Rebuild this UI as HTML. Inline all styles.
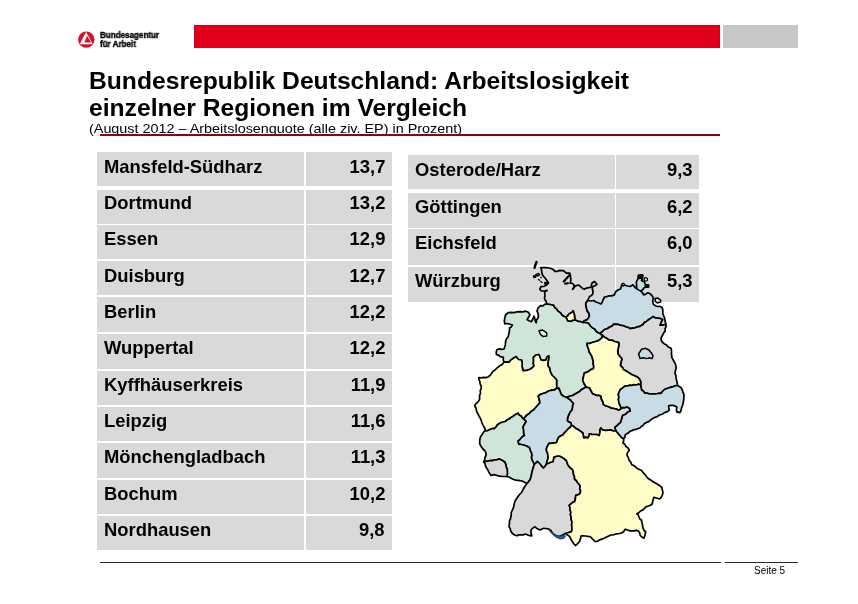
<!DOCTYPE html>
<html><head><meta charset="utf-8">
<style>
html,body{margin:0;padding:0;background:#fff;}
body{width:858px;height:604px;position:relative;overflow:hidden;font-family:"Liberation Sans",sans-serif;color:#000;}
.abs{position:absolute;}
#title,#sub,#logotxt,#seite,.cell{will-change:transform;}
#redbar{left:194px;top:25.2px;width:526px;height:22.6px;background:#e0001b;box-shadow:inset 0 0 0 0.6px #c40018;}
#graybox{left:723.1px;top:25.2px;width:74.8px;height:22.6px;background:#c8c8c8;}
#logotxt{left:100px;top:31.4px;font-size:8.7px;line-height:9.4px;font-weight:bold;letter-spacing:-0.05px;white-space:nowrap;transform:scaleX(0.935);transform-origin:0 0;-webkit-text-stroke:0.4px #000;}
#title{left:88.5px;top:67.6px;font-size:23.3px;line-height:26.8px;font-weight:bold;white-space:nowrap;transform:scaleX(1.058);transform-origin:0 0;}
#sub{left:89px;top:121.4px;font-size:13px;line-height:15px;white-space:nowrap;transform:scaleX(1.106);transform-origin:0 0;}
#redline{left:100.3px;top:133.9px;width:619.6px;height:2px;background:#8e0012;}
.row{position:absolute;background:#d9d9d9;}
.cell{position:absolute;font-size:17.7px;font-weight:bold;line-height:20px;white-space:nowrap;transform:scaleX(1.04);transform-origin:0 0;}
.cell.r{transform-origin:100% 0;}
#footline{left:100px;top:561.7px;width:620.7px;height:1.2px;background:#2a2a2a;}
#footline2{left:725.2px;top:561.7px;width:73px;height:1.2px;background:#2a2a2a;}
#seite{left:754.3px;top:564.6px;font-size:10px;line-height:12px;}
</style></head><body>
<div class="abs" id="redbar"></div>
<div class="abs" id="graybox"></div>
<svg class="abs" style="left:76px;top:29px" width="21" height="21" viewBox="76 29 21 21">
<circle cx="86.3" cy="39.6" r="8.2" fill="#d5142b"/>
<path d="M86.1 31.9 L92.8 44.3 L79.7 44.3 Z" fill="#fff"/>
<path d="M87.1 35.8 L91.1 42.4 L84.3 42.4 Z" fill="#d5142b"/>
</svg>
<div class="abs" id="logotxt">Bundesagentur<br>für Arbeit</div>
<div class="abs" id="title">Bundesrepublik Deutschland: Arbeitslosigkeit<br>einzelner Regionen im Vergleich</div>
<div class="abs" id="sub">(August 2012 – Arbeitslosenquote (alle ziv. EP) in Prozent)</div>
<div class="abs" id="redline"></div>
<div id="tables">
<div class="row" style="left:97px;top:152.00px;width:206.90px;height:33.60px"></div>
<div class="row" style="left:305.5px;top:152.00px;width:86.50px;height:33.60px"></div>
<div class="cell" style="left:104px;top:156.97px">Mansfeld-Südharz</div>
<div class="cell r" style="right:473px;top:156.97px">13,7</div>
<div class="row" style="left:97px;top:189.50px;width:206.90px;height:34.00px"></div>
<div class="row" style="left:305.5px;top:189.50px;width:86.50px;height:34.00px"></div>
<div class="cell" style="left:104px;top:192.82px">Dortmund</div>
<div class="cell r" style="right:473px;top:192.82px">13,2</div>
<div class="row" style="left:97px;top:225.20px;width:206.90px;height:34.15px"></div>
<div class="row" style="left:305.5px;top:225.20px;width:86.50px;height:34.15px"></div>
<div class="cell" style="left:104px;top:229.17px">Essen</div>
<div class="cell r" style="right:473px;top:229.17px">12,9</div>
<div class="row" style="left:97px;top:261.05px;width:206.90px;height:34.45px"></div>
<div class="row" style="left:305.5px;top:261.05px;width:86.50px;height:34.45px"></div>
<div class="cell" style="left:104px;top:265.52px">Duisburg</div>
<div class="cell r" style="right:473px;top:265.52px">12,7</div>
<div class="row" style="left:97px;top:297.20px;width:206.90px;height:34.85px"></div>
<div class="row" style="left:305.5px;top:297.20px;width:86.50px;height:34.85px"></div>
<div class="cell" style="left:104px;top:301.87px">Berlin</div>
<div class="cell r" style="right:473px;top:301.87px">12,2</div>
<div class="row" style="left:97px;top:333.75px;width:206.90px;height:35.10px"></div>
<div class="row" style="left:305.5px;top:333.75px;width:86.50px;height:35.10px"></div>
<div class="cell" style="left:104px;top:338.22px">Wuppertal</div>
<div class="cell r" style="right:473px;top:338.22px">12,2</div>
<div class="row" style="left:97px;top:370.55px;width:206.90px;height:34.90px"></div>
<div class="row" style="left:305.5px;top:370.55px;width:86.50px;height:34.90px"></div>
<div class="cell" style="left:104px;top:374.57px">Kyffhäuserkreis</div>
<div class="cell r" style="right:473px;top:374.57px">11,9</div>
<div class="row" style="left:97px;top:407.15px;width:206.90px;height:34.00px"></div>
<div class="row" style="left:305.5px;top:407.15px;width:86.50px;height:34.00px"></div>
<div class="cell" style="left:104px;top:410.92px">Leipzig</div>
<div class="cell r" style="right:473px;top:410.92px">11,6</div>
<div class="row" style="left:97px;top:442.85px;width:206.90px;height:35.05px"></div>
<div class="row" style="left:305.5px;top:442.85px;width:86.50px;height:35.05px"></div>
<div class="cell" style="left:104px;top:447.27px">Mönchengladbach</div>
<div class="cell r" style="right:473px;top:447.27px">11,3</div>
<div class="row" style="left:97px;top:479.60px;width:206.90px;height:34.35px"></div>
<div class="row" style="left:305.5px;top:479.60px;width:86.50px;height:34.35px"></div>
<div class="cell" style="left:104px;top:483.62px">Bochum</div>
<div class="cell r" style="right:473px;top:483.62px">10,2</div>
<div class="row" style="left:97px;top:515.65px;width:206.90px;height:34.75px"></div>
<div class="row" style="left:305.5px;top:515.65px;width:86.50px;height:34.75px"></div>
<div class="cell" style="left:104px;top:519.97px">Nordhausen</div>
<div class="cell r" style="right:473px;top:519.97px">9,8</div>
<div class="row" style="left:408px;top:155.30px;width:206.65px;height:33.70px"></div>
<div class="row" style="left:616.15px;top:155.30px;width:82.85px;height:33.70px"></div>
<div class="cell" style="left:415px;top:159.97px">Osterode/Harz</div>
<div class="cell r" style="right:165px;top:159.97px">9,3</div>
<div class="row" style="left:408px;top:193.00px;width:206.65px;height:34.55px"></div>
<div class="row" style="left:616.15px;top:193.00px;width:82.85px;height:34.55px"></div>
<div class="cell" style="left:415px;top:196.67px">Göttingen</div>
<div class="cell r" style="right:165px;top:196.67px">6,2</div>
<div class="row" style="left:408px;top:229.25px;width:206.65px;height:35.60px"></div>
<div class="row" style="left:616.15px;top:229.25px;width:82.85px;height:35.60px"></div>
<div class="cell" style="left:415px;top:232.87px">Eichsfeld</div>
<div class="cell r" style="right:165px;top:232.87px">6,0</div>
<div class="row" style="left:408px;top:266.55px;width:206.65px;height:35.15px"></div>
<div class="row" style="left:616.15px;top:266.55px;width:82.85px;height:35.15px"></div>
<div class="cell" style="left:415px;top:270.87px">Würzburg</div>
<div class="cell r" style="right:165px;top:270.87px">5,3</div>
</div><!--/T-->
<div class="abs" id="footline"></div>
<div class="abs" id="footline2"></div>
<div class="abs" id="seite">Seite 5</div>
<!--MAP-->
<svg class="abs" id="map" style="left:460px;top:250px" width="240" height="310" viewBox="460 250 240 310">
<g stroke="#000" stroke-width="1.7" stroke-linejoin="round" stroke-linecap="round">
<path fill="#d9d9d9" d="M546.6,304.0 546.3,301.7 545.0,299.8 544.5,297.7 545.0,295.6 544.6,292.3 547.2,290.4 544.2,291.0 541.2,290.8 539.8,289.2 541.0,286.6 544.0,286.3 546.7,285.0 548.6,283.0 546.7,280.2 545.4,278.4 543.9,276.7 542.4,274.8 541.8,272.5 541.6,270.0 540.7,267.6 543.4,267.7 546.0,267.6 548.8,268.0 551.6,268.6 553.4,269.8 555.0,271.4 557.3,271.4 559.3,270.4 561.4,270.7 563.5,270.7 566.3,273.2 569.8,273.2 570.5,276.0 570.8,279.5 570.5,283.0 572.5,283.5 574.0,285.0 573.8,287.3 572.6,289.3 574.1,287.7 575.3,285.8 578.8,285.0 580.5,286.7 582.3,288.2 584.4,289.3 586.5,288.1 589.0,287.6 591.3,287.0 591.4,285.0 592.0,283.0 594.5,281.5 597.0,284.4 595.0,285.7 592.7,286.5 592.3,289.0 593.1,291.5 592.7,294.0 591.4,295.6 589.5,296.5 588.6,298.5 587.8,300.5 586.5,302.1 585.7,304.0 586.1,306.0 586.4,308.0 587.3,311.1 589.2,313.7 589.4,315.9 588.5,318.0 586.8,319.9 584.4,320.7 582.5,322.3 580.5,321.7 578.5,321.5 575.2,320.0 574.6,317.5 574.5,315.0 573.8,312.9 573.2,310.8 571.4,312.8 569.0,314.0 567.6,315.9 565.5,317.0 563.6,316.3 562.0,315.0 560.2,312.6 557.8,311.0 556.5,309.0 554.6,307.5 553.6,305.3 550.0,304.5Z"/>
<path fill="#fffcc8" d="M575.2,320.0 574.6,317.5 574.5,315.0 573.8,312.9 573.2,310.8 571.4,312.8 569.0,314.0 567.6,315.9 565.5,317.0 566.8,318.7 567.5,320.8 571.0,321.5 572.9,320.3Z"/>
<path fill="#cfe5d7" d="M546.6,304.0 544.6,304.4 543.0,305.8 540.4,305.6 538.0,308.0 537.0,311.2 538.3,314.0 538.3,317.5 536.5,320.0 536.2,323.0 535.3,321.1 535.0,319.0 534.0,316.0 532.9,319.0 531.3,321.7 529.1,320.7 527.0,319.6 529.0,316.5 530.0,314.7 528.0,312.0 525.7,311.2 522.8,311.9 519.9,311.7 517.0,311.8 514.1,312.6 511.2,312.3 508.3,312.6 505.5,315.0 504.8,318.2 504.3,321.0 504.8,323.8 506.9,323.5 509.0,324.0 512.4,325.0 511.3,326.9 509.5,328.0 509.5,330.5 509.0,333.0 508.3,336.4 506.4,339.0 505.5,342.0 505.4,344.4 504.8,346.7 504.0,349.0 501.7,349.4 499.3,348.9 497.0,349.7 496.2,352.0 496.4,354.5 498.4,355.1 500.0,356.5 503.4,357.3 503.2,359.8 504.0,362.2 506.5,362.2 509.0,362.2 510.8,360.1 513.0,358.5 516.0,356.6 518.5,359.5 521.5,360.0 522.2,363.0 522.0,366.0 522.5,368.3 523.0,370.6 526.5,370.5 530.0,369.2 532.3,367.8 534.0,365.7 533.3,363.4 533.6,361.0 533.4,357.3 536.0,355.0 539.0,354.5 540.0,357.5 541.0,360.0 543.5,360.3 546.0,360.0 547.0,357.0 548.8,356.0 548.7,358.5 548.2,361.0 547.9,363.3 548.0,365.7 549.5,367.9 550.0,370.5 550.9,373.1 552.3,375.5 555.0,378.0 556.5,379.7 556.7,381.9 556.5,384.0 556.7,386.2 556.5,388.5 558.5,388.0 560.0,391.0 561.2,394.5 564.0,396.5 567.0,397.5 570.0,396.0 572.3,395.7 574.2,394.5 576.9,393.0 579.6,391.4 581.6,389.6 584.0,388.2 586.0,387.0 585.1,385.2 584.0,383.5 582.8,380.2 583.5,376.5 584.5,372.8 586.9,372.4 589.0,371.0 591.0,369.5 593.4,368.7 593.8,366.3 593.2,364.0 593.3,361.4 592.6,359.0 591.9,356.4 590.5,354.0 589.1,351.8 588.6,349.2 587.5,346.5 587.0,343.4 589.6,343.5 592.0,342.5 594.7,341.7 597.5,341.0 600.0,339.5 601.8,337.8 602.8,335.5 599.6,333.3 597.6,332.4 596.0,331.0 594.7,329.1 592.6,328.0 590.5,326.0 588.5,323.0 586.0,322.5 582.5,322.3 580.5,321.7 578.5,321.5 575.2,320.0 572.9,320.3 571.0,321.5 567.5,320.8 566.8,318.7 565.5,317.0 563.6,316.3 562.0,315.0 560.2,312.6 557.8,311.0 556.5,309.0 554.6,307.5 553.6,305.3 550.0,304.5Z"/>
<path fill="#c8dce6" d="M587.8,300.5 591.0,301.0 594.0,300.5 595.5,301.9 597.5,302.5 601.0,304.0 602.3,302.1 603.0,300.0 604.5,297.0 606.8,296.6 609.0,295.8 611.7,295.9 614.3,294.9 615.6,291.8 618.0,290.0 620.5,289.0 621.3,286.5 621.9,284.3 623.5,283.6 624.7,285.3 627.5,286.0 630.3,286.5 633.0,284.8 635.2,287.6 636.8,288.6 636.7,286.6 636.6,284.5 636.3,282.5 636.9,280.6 638.2,278.5 638.4,275.5 640.5,274.8 642.8,275.2 642.5,278.5 641.5,280.5 644.3,282.0 645.5,284.5 648.5,284.8 648.6,287.0 645.5,287.2 643.5,288.3 642.9,289.5 640.8,291.2 642.5,292.8 643.6,294.9 645.8,294.1 647.8,292.8 650.2,293.8 652.0,295.6 653.4,298.0 652.7,300.9 653.4,304.4 655.4,305.7 657.6,306.5 659.7,306.3 661.7,307.2 662.7,309.0 662.8,311.0 662.9,313.9 664.0,316.5 664.7,318.4 665.0,320.5 665.8,324.3 662.9,325.2 659.9,325.2 661.2,322.0 662.6,319.6 660.2,318.4 657.6,318.2 655.1,317.8 653.0,316.5 651.4,318.0 649.5,319.0 646.5,321.4 644.4,322.6 643.0,324.5 640.0,326.3 637.5,326.9 635.0,327.8 632.5,328.2 630.0,328.6 628.1,327.4 626.0,327.0 624.1,325.9 622.0,325.5 619.9,325.2 618.0,324.3 615.9,324.3 613.8,324.2 611.9,326.1 609.4,327.2 607.2,328.8 604.5,329.5 602.0,332.0 599.6,333.3 597.6,332.4 596.0,331.0 594.7,329.1 592.6,328.0 590.5,326.0 588.5,323.0 586.0,322.5 582.5,322.3 584.4,320.7 586.8,319.9 588.5,318.0 589.4,315.9 589.2,313.7 587.3,311.1 586.4,308.0 586.1,306.0 585.7,304.0 586.5,302.1Z"/>
<path fill="#d9d9d9" d="M665.8,324.3 666.1,326.6 665.0,328.9 665.2,331.2 663.8,332.6 663.0,334.5 661.2,337.7 661.1,339.8 662.0,341.8 664.1,343.7 666.5,345.0 668.4,347.1 671.0,348.3 671.5,350.6 671.5,353.0 671.6,355.2 671.8,357.3 672.9,359.4 674.0,361.5 675.1,363.4 675.8,365.5 676.1,368.3 675.3,370.9 675.0,373.6 676.0,375.6 676.0,377.9 676.5,380.0 677.2,382.7 677.5,385.5 674.9,385.8 672.6,386.9 670.5,387.3 668.5,388.0 666.4,388.7 664.4,389.5 662.6,391.3 661.2,393.4 658.6,393.3 656.0,394.0 653.7,393.9 651.4,394.0 649.2,394.0 647.1,393.0 644.8,393.2 643.5,391.3 641.6,390.0 641.0,387.0 640.5,384.5 640.8,381.8 639.8,379.6 638.3,377.7 636.2,376.6 634.0,375.5 632.0,374.7 630.2,373.6 627.0,371.5 623.6,369.6 622.4,367.3 620.4,365.5 621.0,362.0 622.0,359.0 620.0,356.5 618.0,354.0 617.7,351.0 618.3,348.0 618.9,345.3 618.7,342.6 616.6,342.0 614.5,341.5 612.7,340.4 610.6,340.2 608.6,339.8 607.0,338.5 604.5,337.2 602.8,335.5 599.6,333.3 602.0,332.0 604.5,329.5 607.2,328.8 609.4,327.2 611.9,326.1 613.8,324.2 615.9,324.3 618.0,324.3 619.9,325.2 622.0,325.5 624.1,325.9 626.0,327.0 628.1,327.4 630.0,328.6 632.5,328.2 635.0,327.8 637.5,326.9 640.0,326.3 643.0,324.5 644.4,322.6 646.5,321.4 649.5,319.0 651.4,318.0 653.0,316.5 655.1,317.8 657.6,318.2 660.2,318.4 662.6,319.6 661.2,322.0 659.9,325.2 662.9,325.2Z"/>
<path fill="#fffcc8" d="M602.8,335.5 601.8,337.8 600.0,339.5 597.5,341.0 594.7,341.7 592.0,342.5 589.6,343.5 587.0,343.4 587.5,346.5 588.6,349.2 589.1,351.8 590.5,354.0 591.9,356.4 592.6,359.0 593.3,361.4 593.2,364.0 593.8,366.3 593.4,368.7 591.0,369.5 589.0,371.0 586.9,372.4 584.5,372.8 583.5,376.5 582.8,380.2 584.0,383.5 585.1,385.2 586.0,387.0 589.4,388.0 591.0,391.0 592.6,393.9 594.6,394.5 596.5,395.5 598.7,395.4 600.8,396.3 601.0,398.5 602.0,400.5 603.0,402.4 603.2,404.5 605.7,406.0 608.5,406.8 611.0,408.1 613.8,408.5 616.3,409.1 618.7,410.2 621.3,408.6 620.0,405.0 619.0,403.2 618.7,401.2 618.4,399.1 619.0,397.0 618.3,395.0 618.7,393.0 620.4,389.5 622.1,388.4 623.6,387.0 625.4,386.0 627.5,386.0 629.6,385.2 631.8,385.5 633.8,384.7 636.0,385.0 638.2,384.3 640.5,384.5 640.8,381.8 639.8,379.6 638.3,377.7 636.2,376.6 634.0,375.5 632.0,374.7 630.2,373.6 627.0,371.5 623.6,369.6 622.4,367.3 620.4,365.5 621.0,362.0 622.0,359.0 620.0,356.5 618.0,354.0 617.7,351.0 618.3,348.0 618.9,345.3 618.7,342.6 616.6,342.0 614.5,341.5 612.7,340.4 610.6,340.2 608.6,339.8 607.0,338.5 604.5,337.2Z"/>
<path fill="#c8dce6" d="M677.5,385.5 680.7,387.3 682.4,390.0 683.0,392.4 684.0,394.7 683.9,396.9 683.8,399.0 683.2,402.8 682.6,405.5 681.5,408.0 681.1,410.4 680.0,412.6 676.7,411.8 676.4,409.4 676.9,407.0 674.8,405.9 672.6,405.3 670.5,405.4 668.5,406.0 668.9,408.1 669.3,410.2 667.1,411.9 664.4,412.6 662.2,414.3 659.5,415.0 657.2,416.6 654.6,417.5 652.5,418.6 650.5,420.0 648.8,421.6 646.5,422.4 644.4,423.6 643.0,425.5 641.3,426.5 640.0,428.0 637.9,428.5 636.0,429.5 633.8,429.7 631.8,430.6 629.9,431.3 628.5,432.8 625.3,434.7 625.0,436.9 623.6,438.7 621.7,437.9 620.4,436.3 618.0,433.5 615.8,430.8 614.7,427.3 617.5,425.0 620.4,422.4 621.5,419.0 622.0,416.9 622.8,415.0 624.8,414.5 626.5,413.2 628.1,411.7 630.2,411.0 629.5,408.5 626.9,407.0 624.9,407.8 622.8,407.7 621.3,408.6 620.0,405.0 619.0,403.2 618.7,401.2 618.4,399.1 619.0,397.0 618.3,395.0 618.7,393.0 620.4,389.5 622.1,388.4 623.6,387.0 625.4,386.0 627.5,386.0 629.6,385.2 631.8,385.5 633.8,384.7 636.0,385.0 638.2,384.3 640.5,384.5 641.0,387.0 641.6,390.0 643.5,391.3 644.8,393.2 647.1,393.0 649.2,394.0 651.4,394.0 653.7,393.9 656.0,394.0 658.6,393.3 661.2,393.4 662.6,391.3 664.4,389.5 666.4,388.7 668.5,388.0 670.5,387.3 672.6,386.9 674.9,385.8Z"/>
<path fill="#d9d9d9" d="M567.0,397.5 570.0,396.0 572.3,395.7 574.2,394.5 576.9,393.0 579.6,391.4 581.6,389.6 584.0,388.2 586.0,387.0 589.4,388.0 591.0,391.0 592.6,393.9 594.6,394.5 596.5,395.5 598.7,395.4 600.8,396.3 601.0,398.5 602.0,400.5 603.0,402.4 603.2,404.5 605.7,406.0 608.5,406.8 611.0,408.1 613.8,408.5 616.3,409.1 618.7,410.2 621.3,408.6 622.8,407.7 624.9,407.8 626.9,407.0 629.5,408.5 630.2,411.0 628.1,411.7 626.5,413.2 624.8,414.5 622.8,415.0 622.0,416.9 621.5,419.0 620.4,422.4 617.5,425.0 614.7,427.3 615.8,430.8 613.3,431.0 611.0,430.0 608.5,430.2 605.4,430.5 602.4,429.8 600.8,428.0 600.0,429.9 600.0,432.0 599.2,435.5 596.7,434.5 594.0,434.5 591.7,434.4 589.4,433.8 589.0,436.0 587.7,437.9 585.7,437.4 583.7,437.9 583.3,435.4 582.8,433.0 580.5,431.2 578.0,429.5 575.6,428.2 573.5,426.3 571.5,425.5 571.0,423.0 569.1,422.0 567.3,420.8 567.5,418.4 568.2,416.0 569.2,414.0 570.0,412.0 571.7,410.1 572.4,407.7 572.5,405.4 573.5,403.3 571.7,401.9 570.5,400.0 568.6,398.9Z"/>
<path fill="#fffcc8" d="M485.3,430.8 484.7,428.0 483.2,425.6 482.0,423.0 481.2,420.4 480.2,418.0 478.8,415.7 477.7,413.3 476.5,411.0 476.1,408.3 474.7,406.0 475.7,403.9 477.5,402.5 479.6,399.4 479.5,396.1 480.5,393.0 480.2,390.7 481.2,388.6 481.2,386.3 480.2,384.0 479.8,381.5 479.0,379.6 478.8,377.5 481.2,377.8 483.5,377.3 485.8,377.6 488.0,377.0 490.0,375.5 491.5,373.5 492.9,371.4 495.0,370.0 497.2,367.9 499.5,366.0 502.1,364.5 504.0,362.2 506.5,362.2 509.0,362.2 510.8,360.1 513.0,358.5 516.0,356.6 518.5,359.5 521.5,360.0 522.2,363.0 522.0,366.0 522.5,368.3 523.0,370.6 526.5,370.5 530.0,369.2 532.3,367.8 534.0,365.7 533.3,363.4 533.6,361.0 533.4,357.3 536.0,355.0 539.0,354.5 540.0,357.5 541.0,360.0 543.5,360.3 546.0,360.0 547.0,357.0 548.8,356.0 548.7,358.5 548.2,361.0 547.9,363.3 548.0,365.7 549.5,367.9 550.0,370.5 550.9,373.1 552.3,375.5 555.0,378.0 556.5,379.7 556.7,381.9 556.5,384.0 556.7,386.2 556.5,388.5 554.6,389.8 551.0,390.3 548.0,391.2 545.7,392.8 543.0,393.5 540.4,394.4 538.3,396.0 539.2,399.5 540.0,402.6 537.5,405.5 535.0,408.3 533.2,410.2 531.0,411.5 529.3,413.6 527.0,414.9 525.3,416.9 523.6,419.0 522.1,417.7 521.0,416.0 519.1,415.0 518.0,413.2 515.6,414.4 513.5,416.0 511.2,417.4 509.0,419.0 507.0,420.0 505.2,421.5 503.0,422.0 500.1,423.0 497.5,424.7 496.0,427.0 494.3,428.7 492.1,428.7 490.0,429.5 487.8,430.6Z"/>
<path fill="#c8dce6" d="M556.5,388.5 558.5,388.0 560.0,391.0 561.2,394.5 564.0,396.5 567.0,397.5 568.6,398.9 570.5,400.0 571.7,401.9 573.5,403.3 572.5,405.4 572.4,407.7 571.7,410.1 570.0,412.0 569.2,414.0 568.2,416.0 567.5,418.4 567.3,420.8 569.1,422.0 571.0,423.0 571.5,425.5 570.0,427.5 568.0,429.0 566.3,431.0 564.4,432.8 563.0,434.7 561.0,435.8 559.2,436.8 557.9,438.5 557.3,440.6 556.3,442.6 552.5,443.2 549.0,443.4 547.5,446.0 546.5,448.3 546.4,450.5 547.3,452.5 547.8,454.5 548.0,456.5 548.1,458.6 547.2,460.5 546.5,464.0 544.9,466.5 543.2,468.0 541.5,466.0 540.0,464.0 537.5,461.5 535.5,463.3 534.2,464.8 533.3,462.3 532.0,460.0 531.4,457.5 531.8,455.0 531.4,452.9 530.5,451.0 529.3,447.5 526.5,446.0 523.6,445.0 521.2,444.5 518.7,444.2 517.9,441.0 519.6,439.7 521.0,438.0 522.5,436.4 524.4,435.3 523.5,433.3 523.5,431.0 523.3,429.0 522.8,427.1 524.5,424.0 526.0,421.4 523.6,419.0 525.3,416.9 527.0,414.9 529.3,413.6 531.0,411.5 533.2,410.2 535.0,408.3 537.5,405.5 540.0,402.6 539.2,399.5 538.3,396.0 540.4,394.4 543.0,393.5 545.7,392.8 548.0,391.2 551.0,390.3 554.6,389.8Z"/>
<path fill="#cfe5d7" d="M485.3,430.8 483.5,432.1 482.5,434.0 480.4,436.9 479.8,440.0 479.6,443.4 480.8,446.1 482.5,448.5 484.7,450.5 486.0,453.2 486.0,455.5 485.0,457.5 484.7,459.8 483.7,462.0 486.5,461.3 490.2,460.7 492.4,460.7 494.5,459.8 496.9,459.8 499.2,459.0 502.5,460.5 504.9,462.3 505.9,464.6 506.2,467.0 507.2,469.0 507.3,471.3 507.4,474.0 506.5,476.5 509.0,477.0 511.5,478.5 513.8,479.5 515.9,480.1 518.0,480.3 520.0,480.7 522.0,481.0 524.5,482.3 526.9,483.6 528.8,481.5 530.2,479.5 531.2,476.0 531.8,473.0 532.4,470.7 533.0,468.5 534.2,464.8 533.3,462.3 532.0,460.0 531.4,457.5 531.8,455.0 531.4,452.9 530.5,451.0 529.3,447.5 526.5,446.0 523.6,445.0 521.2,444.5 518.7,444.2 517.9,441.0 519.6,439.7 521.0,438.0 522.5,436.4 524.4,435.3 523.5,433.3 523.5,431.0 523.3,429.0 522.8,427.1 524.5,424.0 526.0,421.4 523.6,419.0 522.1,417.7 521.0,416.0 519.1,415.0 518.0,413.2 515.6,414.4 513.5,416.0 511.2,417.4 509.0,419.0 507.0,420.0 505.2,421.5 503.0,422.0 500.1,423.0 497.5,424.7 496.0,427.0 494.3,428.7 492.1,428.7 490.0,429.5 487.8,430.6Z"/>
<path fill="#d9d9d9" d="M483.7,462.0 486.5,461.3 490.2,460.7 492.4,460.7 494.5,459.8 496.9,459.8 499.2,459.0 502.5,460.5 504.9,462.3 505.9,464.6 506.2,467.0 507.2,469.0 507.3,471.3 507.4,474.0 506.5,476.5 503.0,476.5 499.2,476.2 496.5,475.2 494.3,474.6 491.0,475.4 489.0,472.5 487.7,469.7 486.5,467.9 485.5,466.0 485.1,463.8Z"/>
<path fill="#d9d9d9" d="M526.9,483.6 525.7,485.3 524.5,487.0 522.8,490.0 521.5,492.5 519.5,494.5 517.8,496.7 516.3,499.0 514.7,501.8 514.0,505.0 513.4,507.9 512.2,510.5 511.2,512.6 511.2,515.0 510.6,518.6 509.5,520.7 509.5,523.0 509.0,526.8 510.2,528.5 510.5,530.5 512.2,533.3 514.5,535.0 517.0,535.8 518.9,534.8 521.0,534.8 523.2,534.9 525.3,534.0 528.5,535.3 531.8,535.8 531.0,533.0 531.0,530.0 533.0,528.0 535.0,526.8 537.5,528.8 540.0,530.0 543.2,528.4 546.0,528.5 548.9,529.2 550.9,530.5 552.0,532.5 554.6,535.0 557.0,536.2 559.5,536.6 562.5,535.0 565.2,533.5 568.0,532.8 571.5,531.7 572.0,529.3 571.8,526.8 571.7,524.3 572.0,521.9 571.2,519.5 571.2,517.0 570.4,514.7 570.9,512.3 570.0,510.0 570.0,507.5 569.2,505.2 571.0,503.8 572.7,502.3 574.8,501.5 575.4,498.5 575.8,495.4 578.2,494.8 580.2,493.3 580.6,490.9 579.7,488.4 580.2,486.0 579.0,484.1 577.5,482.5 576.3,480.5 574.5,479.0 574.5,476.6 573.5,474.5 573.3,472.1 572.6,469.7 570.0,467.5 567.7,464.8 567.2,462.6 566.3,460.5 564.4,458.8 562.0,457.3 559.5,456.0 556.5,456.2 553.8,457.2 553.5,459.0 553.0,461.5 550.0,462.5 546.5,464.0 544.9,466.5 543.2,468.0 541.5,466.0 540.0,464.0 537.5,461.5 535.5,463.3 534.2,464.8 533.0,468.5 532.4,470.7 531.8,473.0 531.2,476.0 530.2,479.5 528.8,481.5Z"/>
<path fill="#fffcc8" d="M623.6,438.7 623.7,440.9 622.8,442.8 624.8,444.3 626.0,446.5 628.1,448.0 629.3,450.2 627.5,452.5 626.9,455.0 628.3,457.4 629.0,460.0 630.8,462.2 631.8,464.8 634.5,465.9 636.5,468.0 639.0,469.3 641.6,470.5 643.4,472.9 645.5,475.0 647.2,477.6 649.7,479.5 651.5,480.5 653.0,481.8 656.3,483.6 659.5,485.5 662.0,487.6 662.2,489.6 662.8,491.5 662.8,493.7 662.0,495.8 661.0,497.6 659.5,499.0 656.5,498.0 653.8,497.4 652.8,501.0 652.2,504.0 650.5,505.3 648.5,506.0 646.4,506.6 644.8,508.0 643.0,509.9 640.5,511.0 638.9,512.8 636.7,513.7 638.3,515.1 639.0,517.0 639.9,519.0 641.6,520.3 641.8,522.5 642.5,524.5 642.6,526.5 643.2,528.4 644.0,530.4 645.7,531.7 645.0,535.0 644.0,538.2 641.5,536.8 640.0,535.0 639.7,532.7 638.3,530.9 636.1,530.4 634.0,530.9 630.2,530.9 627.5,530.0 625.3,529.2 624.1,530.9 622.8,532.5 619.7,533.5 616.5,533.8 613.6,534.8 610.6,535.0 608.8,535.9 607.0,536.8 604.0,538.2 601.8,539.1 599.5,540.0 597.4,541.3 595.0,541.5 592.5,539.0 590.2,536.6 587.8,536.4 585.5,536.0 583.4,535.8 581.2,535.8 580.4,538.5 579.6,541.5 577.5,543.8 575.5,545.5 573.5,543.5 572.2,541.5 570.8,538.8 569.8,536.6 567.5,535.0 565.2,533.5 568.0,532.8 571.5,531.7 572.0,529.3 571.8,526.8 571.7,524.3 572.0,521.9 571.2,519.5 571.2,517.0 570.4,514.7 570.9,512.3 570.0,510.0 570.0,507.5 569.2,505.2 571.0,503.8 572.7,502.3 574.8,501.5 575.4,498.5 575.8,495.4 578.2,494.8 580.2,493.3 580.6,490.9 579.7,488.4 580.2,486.0 579.0,484.1 577.5,482.5 576.3,480.5 574.5,479.0 574.5,476.6 573.5,474.5 573.3,472.1 572.6,469.7 570.0,467.5 567.7,464.8 567.2,462.6 566.3,460.5 564.4,458.8 562.0,457.3 559.5,456.0 556.5,456.2 553.8,457.2 553.5,459.0 553.0,461.5 550.0,462.5 546.5,464.0 547.2,460.5 548.1,458.6 548.0,456.5 547.8,454.5 547.3,452.5 546.4,450.5 546.5,448.3 547.5,446.0 549.0,443.4 552.5,443.2 556.3,442.6 557.3,440.6 557.9,438.5 559.2,436.8 561.0,435.8 563.0,434.7 564.4,432.8 566.3,431.0 568.0,429.0 570.0,427.5 571.5,425.5 573.5,426.3 575.6,428.2 578.0,429.5 580.5,431.2 582.8,433.0 583.3,435.4 583.7,437.9 585.7,437.4 587.7,437.9 589.0,436.0 589.4,433.8 591.7,434.4 594.0,434.5 596.7,434.5 599.2,435.5 600.0,432.0 600.0,429.9 600.8,428.0 602.4,429.8 605.4,430.5 608.5,430.2 611.0,430.0 613.3,431.0 615.8,430.8 618.0,433.5 620.4,436.3 621.7,437.9Z"/>
<path fill="#c8dce6" stroke-width="1.5" d="M638.6,354 641.6,349.2 645.7,348.3 648.9,350 651,352.5 653,355.7 652.2,358.6 649.5,357.8 646.5,358.6 643.5,357.8 640,358.4Z"/>
<path fill="#f6f7e4" stroke-width="1.5" d="M539,330.8 542.5,330 546.7,332.9 546.7,336 543.2,336.6 540.4,334.3Z"/>
<path fill="#2b5f8c" stroke="#10304d" stroke-width="0.8" d="M548.5,528.8 552,532 555,534.6 558,535.9 561,536 563.5,535 565.6,536 564,538.4 560,539 556.5,537.5 553,534.8 550,531.5Z"/>
<path fill="none" stroke-width="2.4" d="M536.5,262 L535.4,265 L534.5,267.8"/>
<path fill="#d9d9d9" stroke-width="1.4" d="M535.8,274.6 l2.8,-1.2 l1,1.4 l-2.6,1.4z"/>
<path fill="#111" stroke-width="1.3" d="M533.4,276 l1.8,-0.3 l0.4,1.6 l-1.6,0.4z M538.6,279.4 l1,0.8 M540.8,281.6 l1.2,0.9 M540.8,277.3 l0.5,0.3 M544.8,282.4 l2.4,0.2 l-0.4,1.8 l-2,-0.4z"/>
<path fill="none" stroke-width="2.2" d="M569.6,275 L563.8,281.5 M565.2,283.7 L567.5,283.4"/>
<path fill="none" stroke-width="1.2" d="M567.5,283.4 L570.5,283"/>
<path fill="#111" stroke-width="1" d="M638.4,275 l4.4,-0.4 l-0.2,3.6 l-4,0.6z M645.3,284.6 l3.2,0 l0.2,2.4 l-3.2,0.2z"/>
<path fill="#e9eef0" stroke-width="1.3" d="M644.1,279.4 a1.7,1.8 0 1 0 3.4,0 a1.7,1.8 0 1 0 -3.4,0z"/>
<path fill="#dfe6e8" stroke-width="1.5" d="M655,298.4 L657.6,297.9 L660.8,300.3 L660.4,302 L657.4,303 L655.4,301.4Z"/>
<path fill="none" stroke-width="1.5" d="M635.2,287.6 L638,289.7 L640.8,291.2"/>
<path fill="#e3ecef" stroke-width="1.1" d="M621.6,284.8 l1.6,-1.4 l1.6,1.2 l-1.4,1.6z"/>
</g></svg>
<!--/MAP-->
</body></html>
